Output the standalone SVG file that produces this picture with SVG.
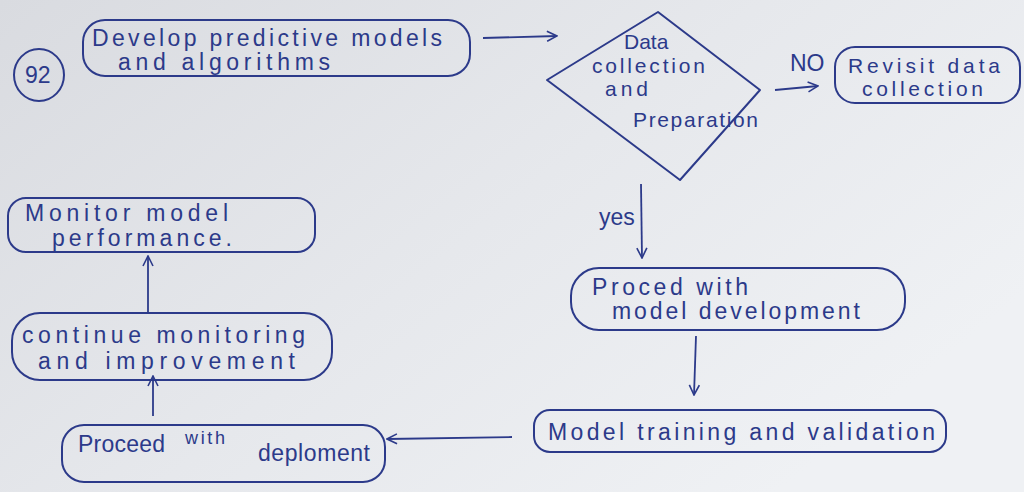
<svg xmlns="http://www.w3.org/2000/svg" width="1024" height="492" viewBox="0 0 1024 492">
<defs>
<linearGradient id="paper" x1="0" y1="0" x2="1" y2="0.6">
<stop offset="0" stop-color="#d9dbe0"/>
<stop offset="0.55" stop-color="#e6e8ec"/>
<stop offset="1" stop-color="#eff1f4"/>
</linearGradient>
<marker id="ah" viewBox="0 0 12 12" refX="11" refY="6" markerWidth="12" markerHeight="12" markerUnits="userSpaceOnUse" orient="auto">
<path d="M1,1 L11,6 L1,11" fill="none" stroke="#2c3a8a" stroke-width="1.6"/>
</marker>
</defs>
<style>
.ink{fill:none;stroke:#2c3a8a;stroke-width:2;stroke-linecap:round;stroke-linejoin:round}
.t{font-family:"Liberation Sans","DejaVu Sans",sans-serif;fill:#2c3a8a;font-size:23px}
.s{font-size:21px}
.line{fill:none;stroke:#2c3a8a;stroke-width:1.8;marker-end:url(#ah)}
</style>
<rect width="1024" height="492" fill="url(#paper)"/>

<g id="label92">
<ellipse cx="39" cy="75" rx="25" ry="26" class="ink"/>
<text class="t" x="25" y="83" font-size="19">92</text>
</g>

<g id="n-develop">
<rect x="83" y="20" width="387" height="56" rx="22" class="ink"/>
<text class="t" x="92" y="46" textLength="350" lengthAdjust="spacing">Develop predictive models</text>
<text class="t" x="118" y="70" textLength="212" lengthAdjust="spacing">and algorithms</text>
</g>

<g id="n-data">
<polygon points="658,12 760,90 680,180 547,80" class="ink"/>
<text class="t s" x="624" y="49">Data</text>
<text class="t s" x="592" y="73" textLength="113" lengthAdjust="spacing">collection</text>
<text class="t s" x="605" y="96" textLength="43" lengthAdjust="spacing">and</text>
<text class="t s" x="633" y="127" textLength="125" lengthAdjust="spacing">Preparation</text>
</g>

<g id="n-revisit">
<rect x="835" y="47" width="185" height="56" rx="20" class="ink"/>
<text class="t s" x="848" y="73" textLength="152" lengthAdjust="spacing">Revisit data</text>
<text class="t s" x="862" y="96" textLength="121" lengthAdjust="spacing">collection</text>
</g>

<g id="n-proced">
<rect x="571" y="268" width="334" height="62" rx="28" class="ink"/>
<text class="t" x="592" y="295" textLength="156" lengthAdjust="spacing">Proced with</text>
<text class="t" x="612" y="319" textLength="248" lengthAdjust="spacing">model development</text>
</g>

<g id="n-training">
<rect x="534" y="410" width="412" height="42" rx="16" class="ink"/>
<text class="t" x="548" y="440" textLength="387" lengthAdjust="spacing">Model training and validation</text>
</g>

<g id="n-deploy">
<rect x="62" y="425" width="323" height="57" rx="22" class="ink"/>
<text class="t"><tspan x="78" y="452" textLength="87" lengthAdjust="spacing">Proceed</tspan><tspan x="185" y="444" font-size="18" textLength="40" lengthAdjust="spacing">with</tspan><tspan x="258" y="461" textLength="112" lengthAdjust="spacing">deploment</tspan></text>
</g>

<g id="n-continue">
<rect x="12" y="313" width="320" height="67" rx="28" class="ink"/>
<text class="t" x="22" y="343" textLength="283" lengthAdjust="spacing">continue monitoring</text>
<text class="t" x="38" y="369" textLength="257" lengthAdjust="spacing">and improvement</text>
</g>

<g id="n-monitor">
<rect x="8" y="198" width="307" height="54" rx="18" class="ink"/>
<text class="t" x="25" y="221" textLength="203" lengthAdjust="spacing">Monitor model</text>
<text class="t" x="52" y="246" textLength="180" lengthAdjust="spacing">performance.</text>
</g>

<g id="connectors">
<line x1="483" y1="38" x2="557" y2="36" class="line"/>
<line x1="775" y1="90" x2="818" y2="86" class="line"/>
<text class="t" x="790" y="71" font-size="15">NO</text>
<line x1="641" y1="184" x2="642" y2="258" class="line"/>
<text class="t" x="599" y="225" font-size="19">yes</text>
<line x1="696" y1="336" x2="694" y2="395" class="line"/>
<line x1="512" y1="437" x2="387" y2="439" class="line"/>
<line x1="153" y1="416" x2="153" y2="376" class="line"/>
<line x1="148" y1="314" x2="148" y2="256" class="line"/>
</g>
</svg>
